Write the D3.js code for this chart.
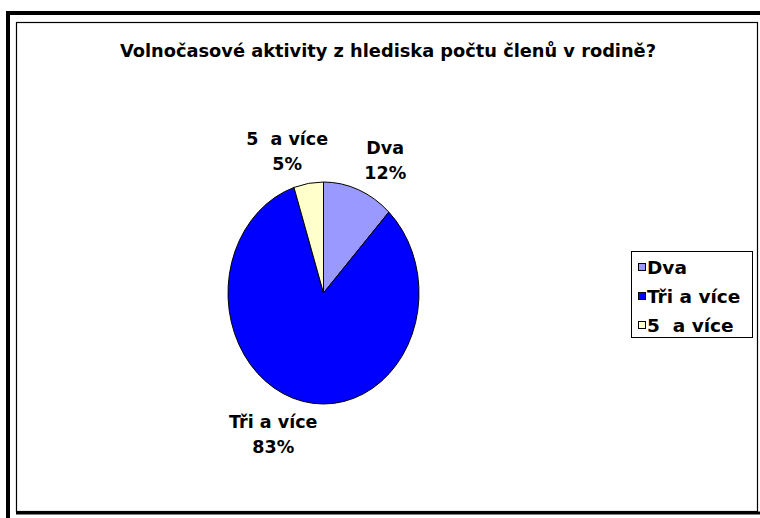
<!DOCTYPE html>
<html>
<head>
<meta charset="utf-8">
<script src="https://cdn.jsdelivr.net/npm/d3@7"></script>
<style>
  body { margin: 0; background: #fff; }
  svg { display: block; }
  text { font-family: "DejaVu Sans", Verdana, sans-serif; font-weight: bold; fill: #000; white-space: pre; }
</style>
</head>
<body>
<div id="container"></div>
<script>
const width = 760;
const height = 518;

const title = "Volnočasové aktivity z hlediska počtu členů v rodině?";
const categories = ["Dva", "Tři a více", "5  a více"];
const values = [12, 83, 5];
const colors = ["#9999ff", "#0000ff", "#ffffcc"];

// pie geometry (the pie is drawn as a slightly tall ellipse)
const cx = 323.5, cy = 293;
const rx = 95.5, ry = 111;
const r = 100;

// small horizontal nudges for the outside labels
const labelNudge = { "Dva": 9, "Tři a více": -19, "5  a více": -14 };

const svg = d3.select("#container")
  .append("svg")
  .attr("width", width)
  .attr("height", height);

// frames
svg.append("path")
  .attr("d", `M8,${height} L8,13 L${width},13`)
  .attr("fill", "none")
  .attr("stroke", "#000")
  .attr("stroke-width", 4);

svg.append("rect")
  .attr("x", 16.5).attr("y", 22.5)
  .attr("width", 741).attr("height", 489)
  .attr("fill", "#fff")
  .attr("stroke", "#000")
  .attr("stroke-width", 1.2);

svg.append("line")
  .attr("x1", 16).attr("x2", width)
  .attr("y1", 513).attr("y2", 513)
  .attr("stroke", "#000")
  .attr("stroke-width", 3);

svg.append("text")
  .attr("x", 388)
  .attr("y", 57)
  .attr("text-anchor", "middle")
  .attr("font-size", 18)
  .attr("textLength", 536)
  .attr("lengthAdjust", "spacingAndGlyphs")
  .text(title);

const data = categories.map((c, i) => ({ name: c, value: values[i], color: colors[i] }));

const pie = d3.pie().sort(null).value(d => d.value);
const arc = d3.arc().innerRadius(0).outerRadius(r);
const arcs = pie(data);

const g = svg.append("g")
  .attr("transform", `translate(${cx},${cy}) scale(${rx / r},${ry / r})`);

g.selectAll("path")
  .data(arcs)
  .enter()
  .append("path")
  .attr("d", arc)
  .attr("fill", d => d.data.color)
  .attr("stroke", "#000")
  .attr("stroke-width", 1)
  .attr("vector-effect", "non-scaling-stroke");

const total = d3.sum(values);
const labels = svg.append("g");

arcs.forEach(d => {
  const a = (d.startAngle + d.endAngle) / 2;
  const lx = cx + Math.sin(a) * rx * 1.5 + labelNudge[d.data.name];
  const ly = cy - Math.cos(a) * (ry + 33);
  const t = labels.append("text")
    .attr("text-anchor", "middle")
    .attr("font-size", 17.5);
  t.append("tspan").attr("x", lx).attr("y", ly - 5.5).text(d.data.name);
  t.append("tspan").attr("x", lx).attr("y", ly + 19.5)
    .text(Math.round(d.data.value / total * 100) + "%");
});

// legend
const legend = svg.append("g");
legend.append("rect")
  .attr("x", 631.5).attr("y", 251.5)
  .attr("width", 121).attr("height", 86)
  .attr("fill", "#fff")
  .attr("stroke", "#000")
  .attr("stroke-width", 1);

const rowY = d3.scalePoint()
  .domain(categories)
  .range([267, 325]);

const rows = legend.selectAll("g.row")
  .data(data)
  .enter()
  .append("g")
  .attr("class", "row")
  .attr("transform", d => `translate(0,${rowY(d.name)})`);

rows.append("rect")
  .attr("x", 638.5).attr("y", -3.5)
  .attr("width", 7).attr("height", 7)
  .attr("fill", d => d.color)
  .attr("stroke", "#000")
  .attr("stroke-width", 1);

rows.append("text")
  .attr("x", 647)
  .attr("y", 6.5)
  .attr("font-size", 18.5)
  .text(d => d.name);
</script>
</body>
</html>
